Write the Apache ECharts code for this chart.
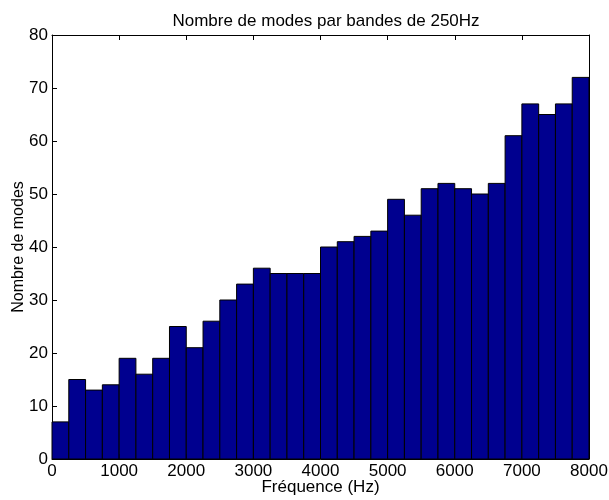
<!DOCTYPE html>
<html><head><meta charset="utf-8">
<script src="https://cdn.jsdelivr.net/npm/echarts@6/dist/echarts.min.js"></script>
<style>html,body{margin:0;padding:0;background:#fff}#c{width:609px;height:500px}</style>
</head><body><div id="c"></div>
<script>
const binStarts = [0,250,500,750,1000,1250,1500,1750,2000,2250,2500,2750,3000,3250,3500,3750,4000,4250,4500,4750,5000,5250,5500,5750,6000,6250,6500,6750,7000,7250,7500,7750];
const binWidth = 250;
const counts = [7,15,13,14,19,16,19,25,21,26,30,33,36,35,35,35,40,41,42,43,49,46,51,52,51,50,52,61,67,65,67,72];
const titleText = 'Nombre de modes par bandes de 250Hz';
const xName = 'Fréquence (Hz)';
const yName = 'Nombre de modes';

const data = binStarts.map((s,i)=>[s, s+binWidth, counts[i]]);
const font = 'Liberation Sans, Arial, Helvetica, sans-serif';
const chart = echarts.init(document.getElementById('c'), null, {renderer:'canvas'});
const axisCommon = {
  axisLine:{show:true,onZero:false,lineStyle:{color:'#000',width:1}},
  axisTick:{show:true,inside:true,length:5,lineStyle:{color:'#000'}},
  splitLine:{show:false}
};
const plain = v => String(v);
chart.setOption({
  animation:false,
  title:{text:titleText,left:321,top:8,textAlign:'center',textStyle:{fontFamily:font,fontSize:17,fontWeight:'normal',color:'#000'}},
  grid:{left:52,right:20,top:35,bottom:41,containLabel:false,outerBoundsMode:'none'},
  xAxis:[
    Object.assign({},axisCommon,{type:'value',min:0,max:8000,interval:1000,position:'bottom',
      name:xName,nameLocation:'middle',nameGap:20,nameMoveOverlap:false,nameTextStyle:{fontFamily:font,fontSize:17,color:'#000'},
      axisLabel:{color:'#000',fontFamily:font,fontSize:17,margin:4,formatter:plain}}),
    Object.assign({},axisCommon,{type:'value',min:0,max:8000,interval:1000,position:'top',axisLabel:{show:false}})
  ],
  yAxis:[
    Object.assign({},axisCommon,{type:'value',min:0,max:80,interval:10,position:'left',
      name:yName,nameLocation:'middle',nameGap:25,nameMoveOverlap:false,nameTextStyle:{fontFamily:font,fontSize:16,color:'#000'},
      axisLabel:{color:'#000',fontFamily:font,fontSize:17,margin:4,formatter:plain}}),
    Object.assign({},axisCommon,{type:'value',min:0,max:80,interval:10,position:'right',axisLabel:{show:false}})
  ],
  series:[{
    type:'custom',
    xAxisIndex:0,yAxisIndex:0,
    data:data,
    encode:{x:[0,1],y:2},
    renderItem:function(params,api){
      const p0 = api.coord([api.value(0), api.value(2)]);
      const p1 = api.coord([api.value(1), 0]);
      return {type:'rect',shape:{x:p0[0],y:p0[1],width:p1[0]-p0[0],height:p1[1]-p0[1]},
        style:{fill:'#00008F',stroke:'#000',lineWidth:1}};
    }
  }]
});
</script></body></html>
